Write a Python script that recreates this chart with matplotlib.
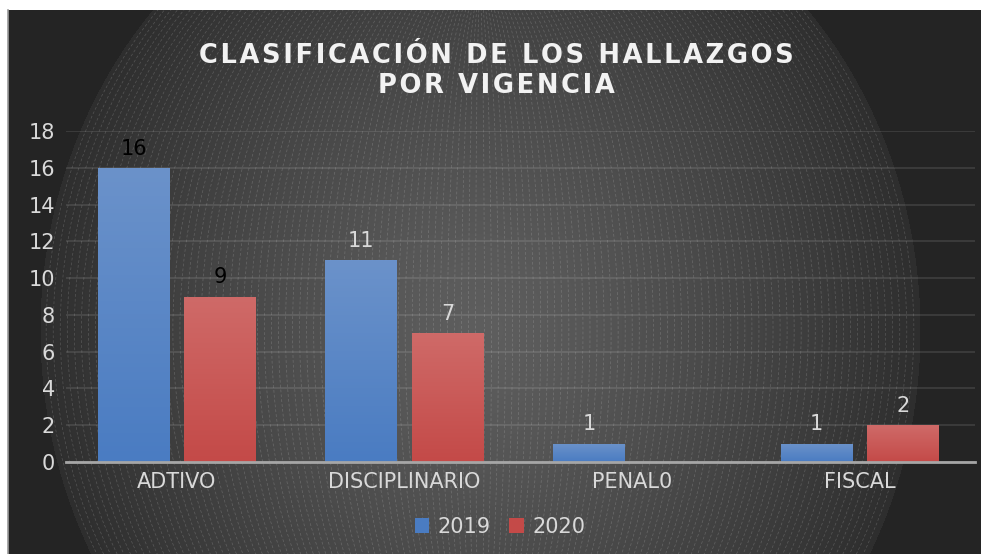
import numpy as np
import matplotlib
matplotlib.use("Agg")
import matplotlib.pyplot as plt
from matplotlib.patches import Ellipse

plt.rcParams["font.family"] = ["DejaVu Sans"]

categories = ["ADTIVO", "DISCIPLINARIO", "PENAL0", "FISCAL"]
series_names = ["2019", "2020"]
values_2019 = [16, 11, 1, 1]
values_2020 = [9, 7, 0, 2]
yticks = [0, 2, 4, 6, 8, 10, 12, 14, 16, 18]

W, H = 981, 554
fig = plt.figure(figsize=(W / 100, H / 100), dpi=100, facecolor="white")

# dark background panel with radial light and dashed rings
bx0, btop = 8, 10
bw, bh = W - bx0, H - btop
bg = fig.add_axes([bx0 / W, 0, bw / W, bh / H])
yy, xx = np.mgrid[0:bh, 0:bw]
cx, cy, ax_, ay_ = 480 - bx0, 330 - btop, 440, 480
r = np.sqrt(((xx - cx) / ax_) ** 2 + ((yy - cy) / ay_) ** 2)
shade = np.where(r < 1, 0x5e - (0x5e - 0x2e) * r ** 1.3, 0x24) / 255.0
img = np.dstack([shade, shade, shade])
bg.imshow(img, extent=[0, bw, bh, 0], aspect="auto", interpolation="bilinear")
for k in np.arange(0.01, 1.0, 0.016):
    a = ax_ * k
    b = 330 + (ay_ - 330) * k
    bg.add_patch(Ellipse((cx, cy), 2 * a, 2 * b, fill=False,
                         edgecolor="white", alpha=0.18, lw=0.5,
                         linestyle=(0, (4, 3))))
bg.set_xlim(0, bw)
bg.set_ylim(bh, 0)
bg.axis("off")
fig.add_artist(plt.Line2D([bx0 / W, bx0 / W], [0, bh / H], color="#9a9a9a",
                          lw=1.2, transform=fig.transFigure))

# main plot area
ax = fig.add_axes([66 / W, (H - 462) / H, 909 / W, 331 / H])
ax.set_facecolor("none")
x = np.arange(len(categories))
bw_bar = 0.316
off = 0.19

grads = {
    "2019": ("#6b92ca", "#4a7cc2"),
    "2020": ("#cf6a68", "#c44a48"),
}
for vals, name, sign in [(values_2019, "2019", -1), (values_2020, "2020", 1)]:
    top_c, bot_c = grads[name]
    bars = ax.bar(x + sign * off, vals, bw_bar, color=bot_c, label=name, zorder=3)
    for b in bars:
        h = b.get_height()
        if h <= 0:
            continue
        t = np.linspace(0, 1, 64)[:, None]
        c1 = np.array(matplotlib.colors.to_rgb(top_c))
        c2 = np.array(matplotlib.colors.to_rgb(bot_c))
        g = (c1[None, :] * (1 - t) + c2[None, :] * t)[:, None, :]
        im = ax.imshow(g, extent=[b.get_x(), b.get_x() + b.get_width(), 0, h],
                       aspect="auto", zorder=3.5, interpolation="bilinear")
        im.set_clip_path(b)

# data labels
for i, v in enumerate(values_2019):
    col = "black" if i == 0 else "#d9d9d9"
    ax.text(x[i] - off, v + 0.5, str(v), ha="center", va="bottom",
            fontsize=15, color=col, zorder=5)
for i, v in enumerate(values_2020):
    if v == 0:
        continue
    col = "black" if i == 0 else "#d9d9d9"
    ax.text(x[i] + off, v + 0.5, str(v), ha="center", va="bottom",
            fontsize=15, color=col, zorder=5)

ax.set_xlim(-0.4875, 3.505)
ax.set_ylim(0, 18)
ax.set_yticks(yticks)
ax.set_xticks(x)
ax.set_xticklabels(categories)
ax.yaxis.grid(True, color="white", alpha=0.12, lw=1.2, zorder=1)
ax.set_axisbelow(True)
for s in ["top", "right", "left"]:
    ax.spines[s].set_visible(False)
ax.spines["bottom"].set_color("#a6a6a6")
ax.spines["bottom"].set_linewidth(2)
ax.spines["bottom"].set_zorder(4)
ax.tick_params(axis="both", length=0, labelsize=15, colors="#d9d9d9")
ax.tick_params(axis="y", pad=8)
ax.tick_params(axis="x", pad=7)

# title with wide letter spacing
hs = "\u200a"
line1 = "CLASIFICACIÓN DE LOS HALLAZGOS"
line2 = "POR VIGENCIA"
for txt, ypx in [(line1, 56), (line2, 86)]:
    fig.text(496 / W, 1 - ypx / H, hs.join(txt), ha="center", va="center",
             fontsize=18.5, fontweight="bold", color="#f2f2f2")

# legend
handles, labels = ax.get_legend_handles_labels()
leg = fig.legend(handles, labels, loc="center", bbox_to_anchor=(500 / W, 1 - 527 / H),
                 ncol=2, frameon=False, fontsize=15, handlelength=0.7,
                 handleheight=0.7, handletextpad=0.4, columnspacing=0.9)
for t in leg.get_texts():
    t.set_color("#d9d9d9")

fig.savefig("out.png", dpi=100, facecolor="white")
